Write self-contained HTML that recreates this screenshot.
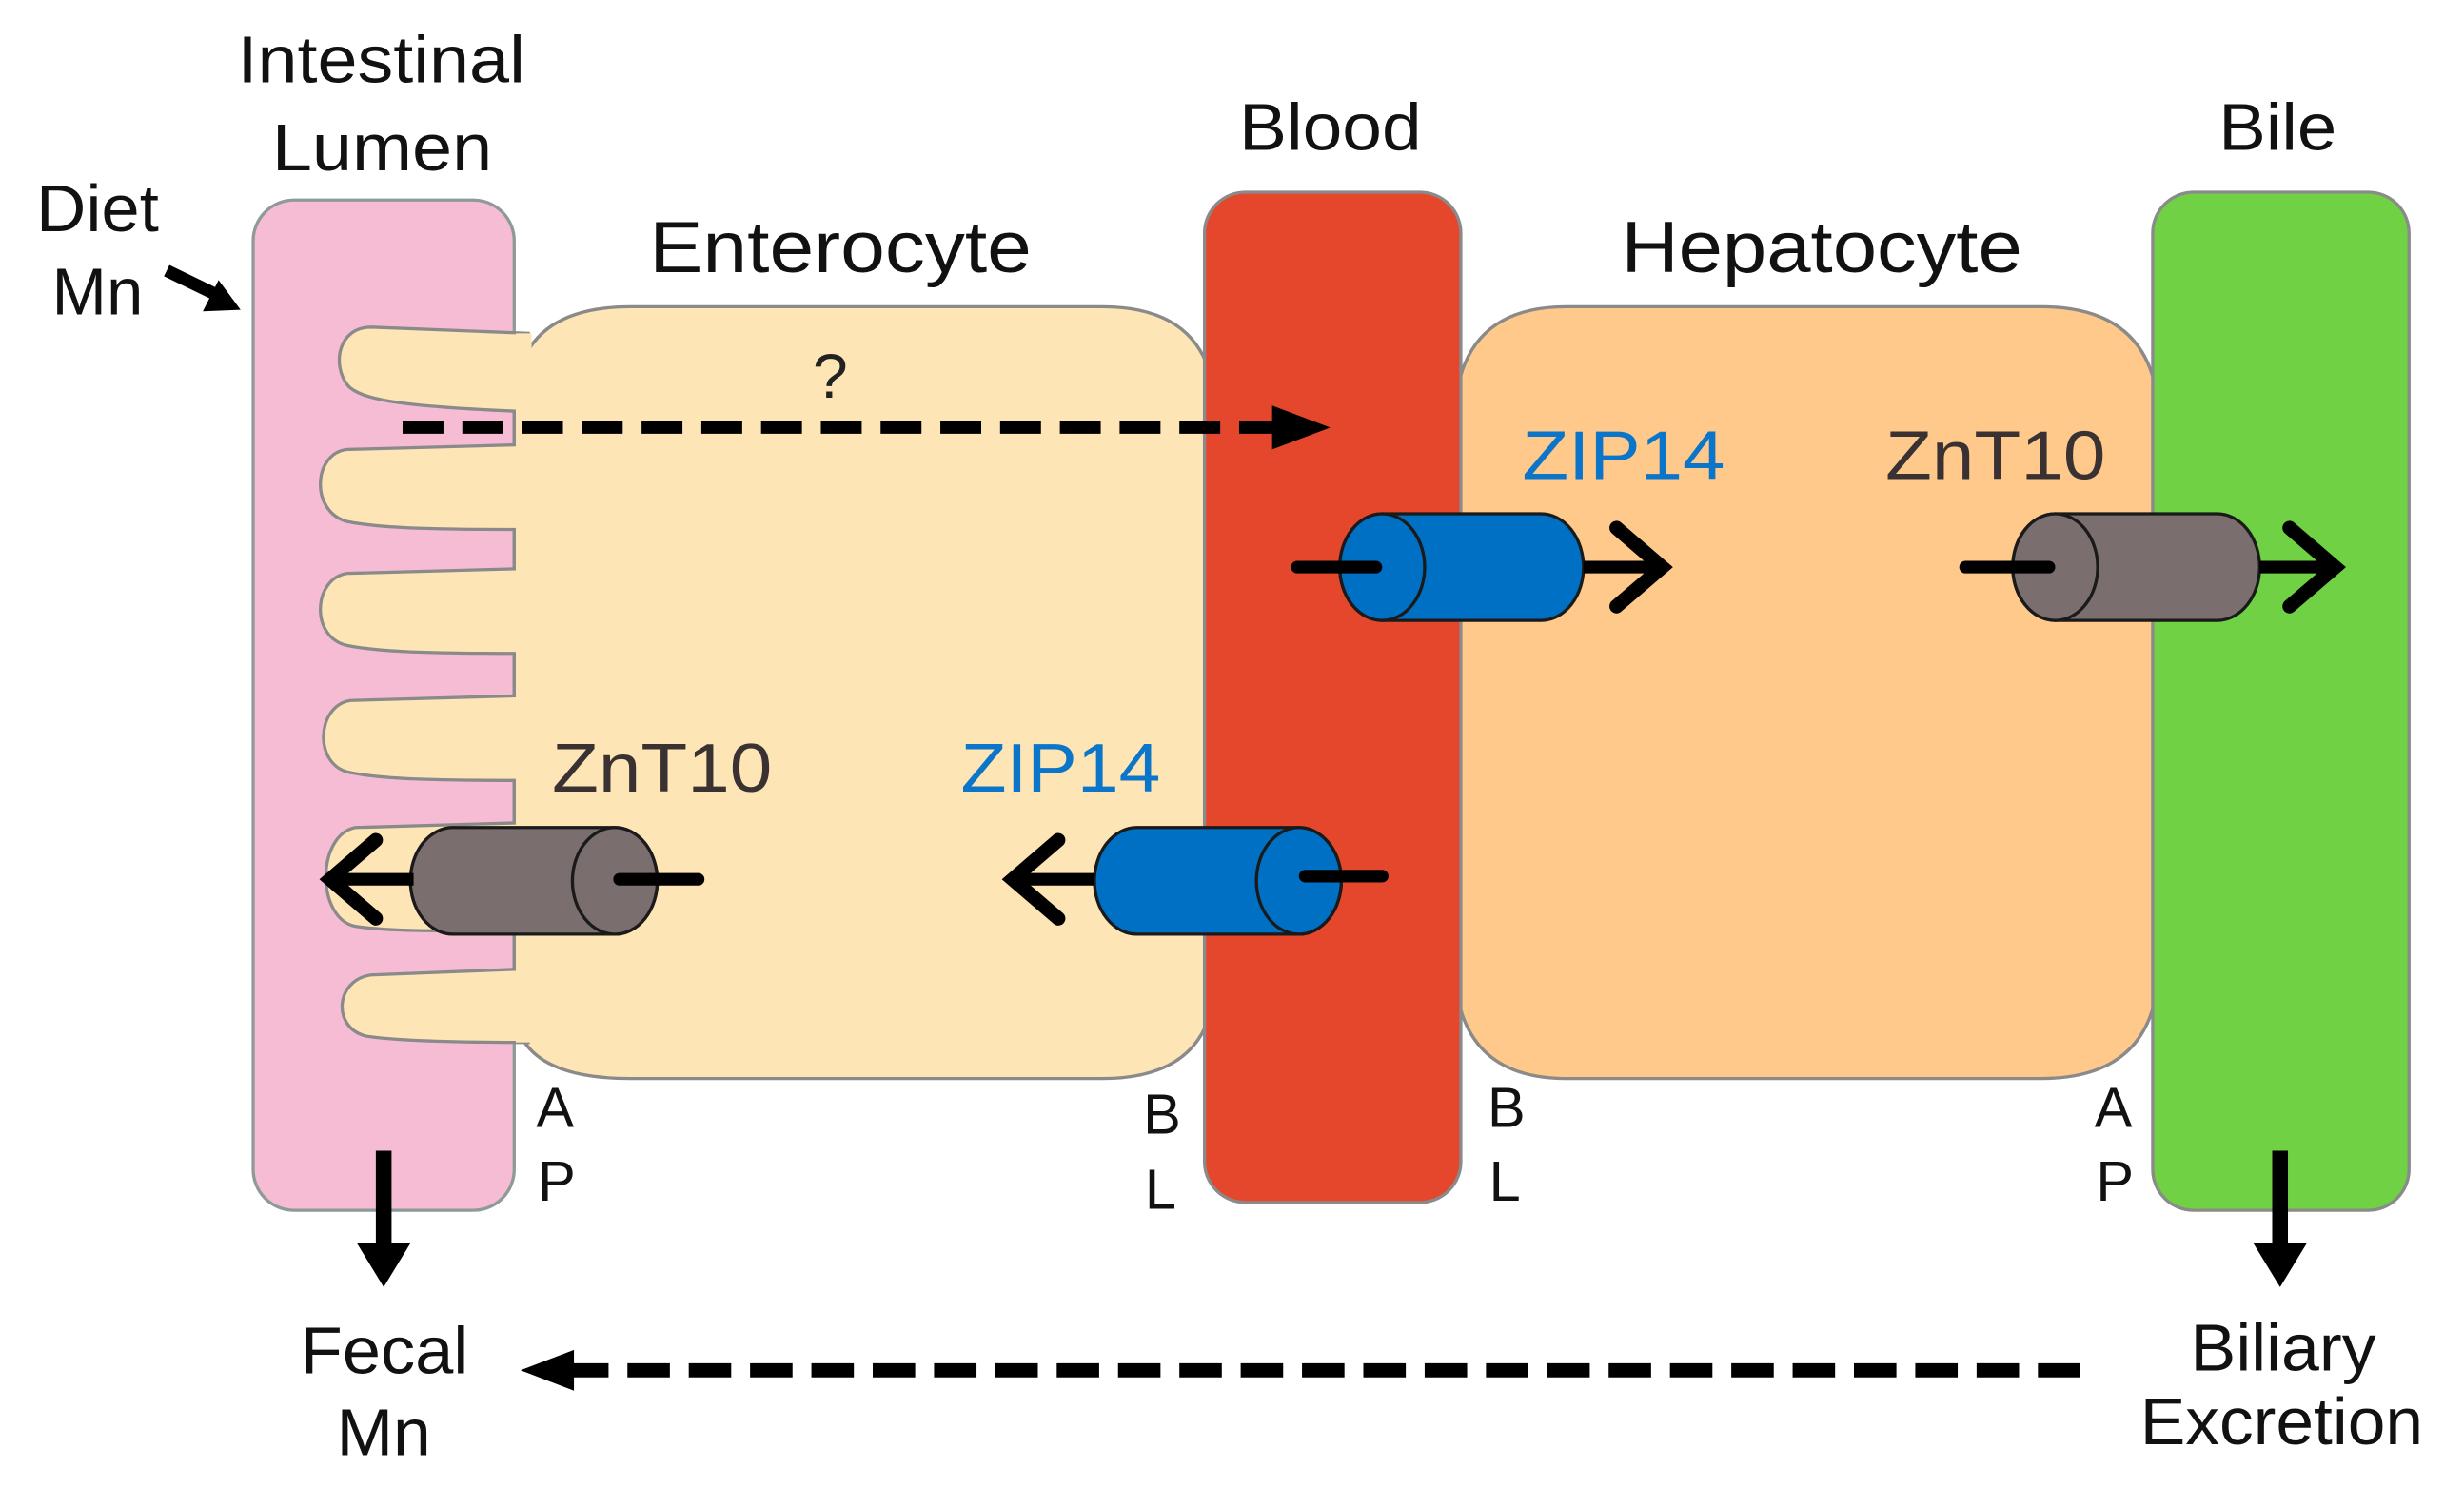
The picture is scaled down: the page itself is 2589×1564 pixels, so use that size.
<!DOCTYPE html>
<html><head><meta charset="utf-8"><style>
html,body{margin:0;padding:0;background:#fff;}
svg{display:block;}
text{font-family:"Liberation Sans",Arial,sans-serif;}
</style></head><body>
<svg width="2589" height="1564" viewBox="0 0 1556 940" preserveAspectRatio="none" xmlns="http://www.w3.org/2000/svg">
<g transform="translate(1,0.5) scale(0.993,0.991)">
<rect x="160" y="127" width="166" height="644" rx="26" fill="#f6bcd4" stroke="#8e9a98" stroke-width="2"/>
<path d="M326 260 Q326 195 400 195 L700 195 Q772 195 772 265 L772 620 Q772 687 700 687 L400 687 Q326 687 326 640 Z" fill="#fde5b5" stroke="#8a8a8a" stroke-width="2"/>
<rect x="327" y="212" width="10" height="452" fill="#fde5b5"/>
<g fill="#fde5b5" stroke="#8a8a8a" stroke-width="2">
<path d="M336 212 L235 208 C214 208 210 232 220 245 C228 255 260 259 336 262"/>
<path d="M330 283 L220 286 C198 288 196 326 220 332 C240 336 270 337 330 337"/>
<path d="M330 362 L220 365 C198 368 196 406 220 411 C240 415 270 416 330 416"/>
<path d="M330 443 L222 446 C200 449 198 488 222 492 C242 496 270 497 330 497"/>
<path d="M330 524 L225 527 C200 532 200 585 225 590 C245 593 270 593 330 593"/>
<path d="M336 617 L235 621 C212 624 210 655 232 660 C252 663 290 664 336 664"/>
</g>
<rect x="327" y="212" width="10" height="452" fill="#fde5b5"/>
<line x1="326" y1="262" x2="326" y2="283" stroke="#8a8a8a" stroke-width="2"/>
<line x1="326" y1="337" x2="326" y2="362" stroke="#8a8a8a" stroke-width="2"/>
<line x1="326" y1="416" x2="326" y2="443" stroke="#8a8a8a" stroke-width="2"/>
<line x1="326" y1="497" x2="326" y2="524" stroke="#8a8a8a" stroke-width="2"/>
<line x1="326" y1="593" x2="326" y2="617" stroke="#8a8a8a" stroke-width="2"/>
<path d="M995 195 L1297 195 Q1372 195 1372 270 L1372 612 Q1372 687 1297 687 L995 687 Q924 687 924 612 L924 270 Q924 195 995 195 Z" fill="#fec98a" stroke="#8a8a8a" stroke-width="2"/>
<rect x="765" y="122" width="163" height="644" rx="26" fill="#e5472c" stroke="#8a8a8a" stroke-width="2"/>
<rect x="1368" y="122" width="163" height="649" rx="26" fill="#6fd143" stroke="#8a8a8a" stroke-width="2"/>

<line x1="255" y1="272" x2="812" y2="272" stroke="#000" stroke-width="8" stroke-dasharray="26,12"/>
<polygon points="808,258 845,272 808,286" fill="#000"/>
<text x="527" y="253" font-size="40" text-anchor="middle" fill="#222">?</text>

<rect x="851" y="327" width="155" height="68" rx="27" ry="34" fill="#0070c5" stroke="#1a1a1a" stroke-width="2"/>
<ellipse cx="878" cy="361" rx="27" ry="34" fill="#0070c5" stroke="#1a1a1a" stroke-width="2"/>
<line x1="824" y1="361" x2="874" y2="361" stroke="#000" stroke-width="8" stroke-linecap="round"/>
<line x1="1006" y1="361" x2="1058" y2="361" stroke="#000" stroke-width="8"/>
<polyline points="1027,336 1056,361 1027,386" fill="none" stroke="#000" stroke-width="9" stroke-linecap="round"/>
<text x="967" y="305" font-size="44" fill="#0b75c9" textLength="129" lengthAdjust="spacingAndGlyphs">ZIP14</text>

<rect x="1279" y="327" width="157" height="68" rx="27" ry="34" fill="#7a6e6e" stroke="#1a1a1a" stroke-width="2"/>
<ellipse cx="1306" cy="361" rx="27" ry="34" fill="#7a6e6e" stroke="#1a1a1a" stroke-width="2"/>
<line x1="1249" y1="361" x2="1302" y2="361" stroke="#000" stroke-width="8" stroke-linecap="round"/>
<line x1="1436" y1="361" x2="1484" y2="361" stroke="#000" stroke-width="8"/>
<polyline points="1455,336 1484,361 1455,386" fill="none" stroke="#000" stroke-width="9" stroke-linecap="round"/>
<text x="1198" y="305" font-size="44" fill="#3a3232" textLength="140" lengthAdjust="spacingAndGlyphs">ZnT10</text>

<rect x="695" y="527" width="157" height="68" rx="27" ry="34" fill="#0070c5" stroke="#1a1a1a" stroke-width="2"/>
<ellipse cx="825" cy="561" rx="27" ry="34" fill="#0070c5" stroke="#1a1a1a" stroke-width="2"/>
<line x1="829" y1="558" x2="878" y2="558" stroke="#000" stroke-width="8" stroke-linecap="round"/>
<line x1="645" y1="560" x2="695" y2="560" stroke="#000" stroke-width="8"/>
<polyline points="672,535 643,560 672,585" fill="none" stroke="#000" stroke-width="9" stroke-linecap="round"/>
<text x="610" y="504" font-size="44" fill="#0b75c9" textLength="127" lengthAdjust="spacingAndGlyphs">ZIP14</text>

<rect x="260" y="527" width="157" height="68" rx="27" ry="34" fill="#7a6e6e" stroke="#1a1a1a" stroke-width="2"/>
<ellipse cx="390" cy="561" rx="27" ry="34" fill="#7a6e6e" stroke="#1a1a1a" stroke-width="2"/>
<line x1="393" y1="560" x2="443" y2="560" stroke="#000" stroke-width="8" stroke-linecap="round"/>
<line x1="210" y1="560" x2="262" y2="560" stroke="#000" stroke-width="8"/>
<polyline points="238,535 209,560 238,585" fill="none" stroke="#000" stroke-width="9" stroke-linecap="round"/>
<text x="350" y="504" font-size="44" fill="#3a3232" textLength="140" lengthAdjust="spacingAndGlyphs">ZnT10</text>

<line x1="105" y1="172" x2="140" y2="189" stroke="#000" stroke-width="8"/>
<polygon points="152,197 128,198 138,178" fill="#000"/>

<line x1="243" y1="733" x2="243" y2="795" stroke="#000" stroke-width="10"/>
<polygon points="226,792 260,792 243,820" fill="#000"/>
<line x1="1449" y1="733" x2="1449" y2="795" stroke="#000" stroke-width="10"/>
<polygon points="1432,792 1466,792 1449,820" fill="#000"/>

<line x1="1322" y1="873" x2="360" y2="873" stroke="#000" stroke-width="9" stroke-dasharray="27,12"/>
<polygon points="364,860 330,873 364,886" fill="#000"/>

<g fill="#111" font-size="42">
<text x="150" y="52" textLength="183" lengthAdjust="spacingAndGlyphs">Intestinal</text>
<text x="172" y="108" textLength="140" lengthAdjust="spacingAndGlyphs">Lumen</text>
<text x="22" y="147" textLength="78" lengthAdjust="spacingAndGlyphs">Diet</text>
<text x="32" y="200" textLength="58" lengthAdjust="spacingAndGlyphs">Mn</text>
<text x="412" y="173" font-size="46" textLength="243" lengthAdjust="spacingAndGlyphs">Enterocyte</text>
<text x="787" y="95" textLength="116" lengthAdjust="spacingAndGlyphs">Blood</text>
<text x="1030" y="173" font-size="46" textLength="255" lengthAdjust="spacingAndGlyphs">Hepatocyte</text>
<text x="1410" y="95" textLength="75" lengthAdjust="spacingAndGlyphs">Bile</text>
<text x="190" y="875" textLength="107" lengthAdjust="spacingAndGlyphs">Fecal</text>
<text x="213" y="927" textLength="60" lengthAdjust="spacingAndGlyphs">Mn</text>
<text x="1392" y="873" textLength="118" lengthAdjust="spacingAndGlyphs">Biliary</text>
<text x="1360" y="920" textLength="180" lengthAdjust="spacingAndGlyphs">Excretion</text>
</g>
<g fill="#111" font-size="36">
<text x="340" y="718">A</text><text x="341" y="765">P</text>
<text x="726" y="722">B</text><text x="727" y="770">L</text>
<text x="945" y="718">B</text><text x="946" y="765">L</text>
<text x="1331" y="718">A</text><text x="1332" y="765">P</text>
</g>
</g>
</svg>
</body></html>
